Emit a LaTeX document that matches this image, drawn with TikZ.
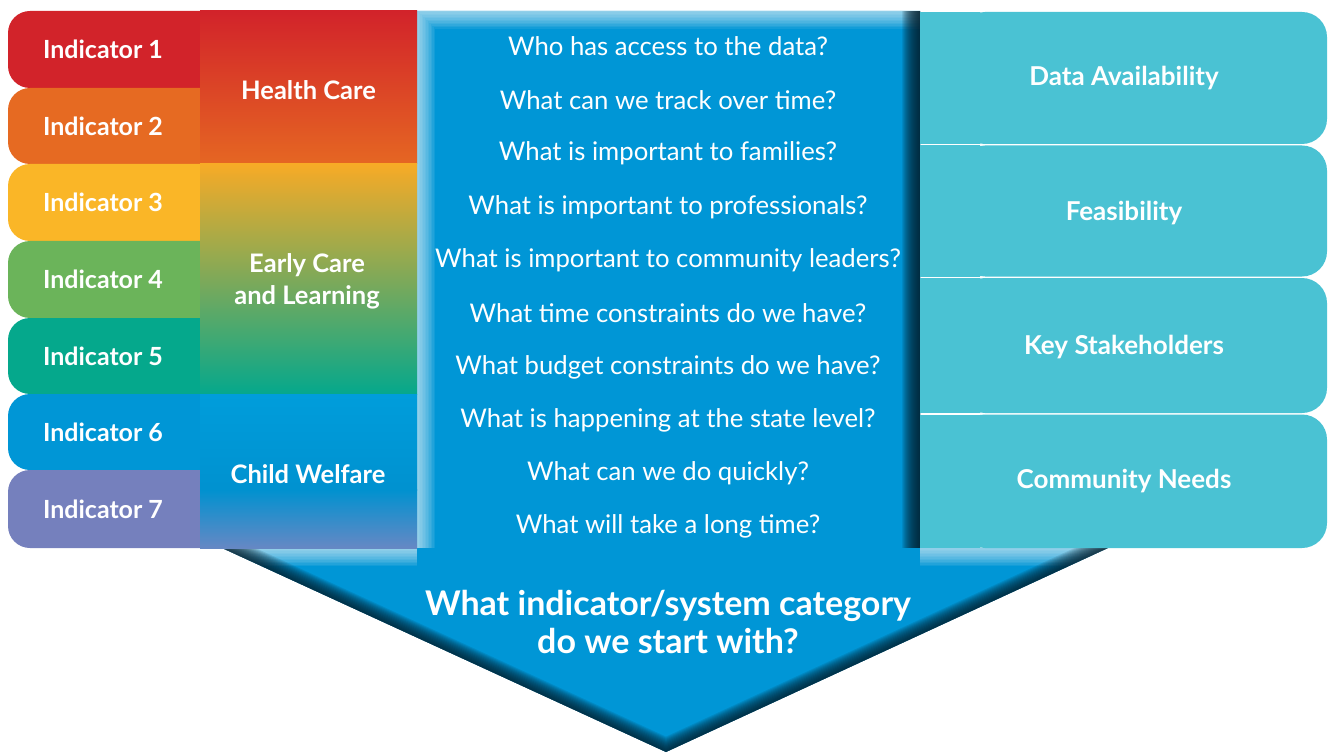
\documentclass[tikz,border=0pt]{standalone}
\usepackage{fontspec}
\setmainfont{Lato}
\definecolor{indA}{HTML}{D2232A}
\definecolor{indB}{HTML}{E66A22}
\definecolor{indC}{HTML}{FAB627}
\definecolor{indD}{HTML}{6BB45A}
\definecolor{indE}{HTML}{05A88C}
\definecolor{indF}{HTML}{0096D6}
\definecolor{indG}{HTML}{7580BD}
\definecolor{cwtop}{HTML}{009DDB}
\definecolor{cwbot}{HTML}{6688C4}
\definecolor{arrowblue}{HTML}{0096D6}
\definecolor{shadowblue}{HTML}{06202E}
\definecolor{rightteal}{HTML}{4AC2D3}
\tikzset{
  indlabel/.style={text=white, font=\fontsize{25}{30}\selectfont\bfseries, inner sep=0pt},
  catlabel/.style={text=white, font=\fontsize{25.5}{32}\selectfont\bfseries, align=center, inner sep=0pt},
  question/.style={text=white, font=\fontsize{25.7}{30}\selectfont, inner sep=0pt},
  factor/.style={text=white, font=\fontsize{26}{30}\selectfont\bfseries, inner sep=0pt},
  bigq/.style={text=white, font=\fontsize{34}{38}\selectfont\bfseries, align=center, inner sep=0pt},
}
\begin{document}
\begin{tikzpicture}[x=1pt,y=-1pt]
\useasboundingbox (0,0) rectangle (1331,754);
% ---------- big arrow ----------
\coordinate (a1) at (417,11);
\coordinate (a2) at (920,11);
\coordinate (a3) at (920,548);
\coordinate (a4) at (1108,548);
\coordinate (a5) at (666,752);
\coordinate (a6) at (222,548);
\coordinate (a7) at (417,548);
\fill[arrowblue] (a1) -- (a2) -- (a3) -- (a4) -- (a5) -- (a6) -- (a7) -- cycle;
\begin{scope}
  \clip (a1) -- (a2) -- (a3) -- (a4) -- (a5) -- (a6) -- (a7) -- cycle;
  \foreach \w in {3,6,...,36} {
    \draw[white, opacity=0.07, line width=\w pt] (a7) -- (a1) -- (a2);
    \draw[white, opacity=0.07, line width=\w pt] (a6) -- (a7);
    \draw[white, opacity=0.07, line width=\w pt] (a3) -- (a4);
  }
  \foreach \w in {2,4,...,28} {
    \draw[shadowblue, opacity=0.11, line width=\w pt] (a4) -- (a5) -- (a6);
  }
  \foreach \w in {2,4,...,36} {
    \draw[shadowblue, opacity=0.1, line width=\w pt] (a2) -- (a3);
  }
\end{scope}
% ---------- indicators ----------
\foreach \c/\t/\b [count=\i] in {indA/11/88, indB/88/164, indC/164/241, indD/241/318, indE/318/394, indF/394/470, indG/470/548} {
  \fill[\c, rounded corners=22pt] (8,\t) rectangle (260,\b);
}
\node[indlabel] (i1) at (103,49.5) {Indicator 1};
\node[indlabel] (i2) at (103,126) {Indicator 2};
\node[indlabel] (i3) at (103,202.5) {Indicator 3};
\node[indlabel] (i4) at (103,279.5) {Indicator 4};
\node[indlabel] (i5) at (103,356) {Indicator 5};
\node[indlabel] (i6) at (103,432) {Indicator 6};
\node[indlabel] (i7) at (103,509) {Indicator 7};
% ---------- categories ----------
\shade[top color=indA, bottom color=indB!95!indA] (200,11) rectangle (417,164);
\shade[top color=indC!85!indB, middle color=indD!70!indC, bottom color=indE] (200,164) rectangle (417,394);
\shade[top color=cwtop, bottom color=indF!97!black] (200,394) rectangle (417,490);
\shade[top color=indF!97!black, bottom color=cwbot] (200,489.5) rectangle (417,548);
\node[catlabel] (hc) at (308.5,90) {Health Care};
\node[catlabel] (ec) at (307,281) {Early Care\\and Learning};
\node[catlabel] (cw) at (308,474) {Child Welfare};
% ---------- right factors ----------
\foreach \t/\b in {12/144, 145.5/276.5, 278/413, 414.5/548} {
  \fill[rightteal, rounded corners=25pt] (960,\t) rectangle (1327,\b);
  \fill[rightteal] (920,\t) rectangle (980,\b);
}
\node[factor] (f1) at (1124,78) {Data Availability};
\node[factor] (f2) at (1124,213) {Feasibility};
\node[factor] (f3) at (1124,347) {Key Stakeholders};
\node[factor] (f4) at (1124,481) {Community Needs};
% ---------- questions ----------
\node[question] (q1) at (668,46) {Who has access to the data?};
\node[question] (q2) at (668,100) {What can we track over time?};
\node[question] (q3) at (668,153) {What is important to families?};
\node[question] (q4) at (668,207) {What is important to professionals?};
\node[question] (q5) at (668,260) {What is important to community leaders?};
\node[question] (q6) at (668,313) {What time constraints do we have?};
\node[question] (q7) at (668,367) {What budget constraints do we have?};
\node[question] (q8) at (668,420) {What is happening at the state level?};
\node[question] (q9) at (668,473) {What can we do quickly?};
\node[question] (q10) at (668,526) {What will take a long time?};
\node[bigq] (main) at (668,622) {What indicator/system category\\do we start with?};
\end{tikzpicture}
\end{document}
